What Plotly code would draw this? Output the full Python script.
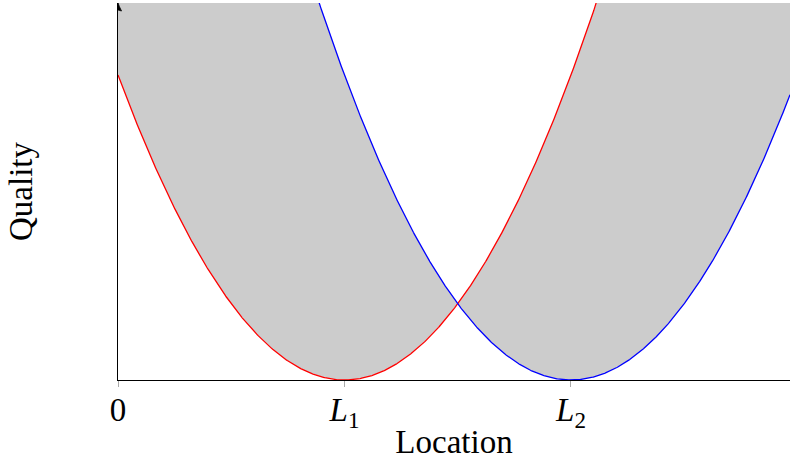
import numpy as np
import plotly.graph_objects as go

# Ideal locations of the two sellers and the shape of the quality curves
tick_vals = [0.0, 1.0, 2.0]
tick_text = ["0", "<i>L</i><sub>1</sub>", "<i>L</i><sub>2</sub>"]
L1 = 1.0
L2 = 2.0
curvature = 1.0
x_max = 2.967
y_max = 1.236

x = np.linspace(0.0, x_max, 1200)
q1 = curvature * (x - L1) ** 2
q2 = curvature * (x - L2) ** 2
lower = np.minimum(q1, q2)
upper = np.minimum(np.maximum(q1, q2), y_max)

font_family = "Liberation Serif, Times New Roman, serif"

fig = go.Figure()
# shaded band between the two curves
fig.add_trace(go.Scatter(x=x, y=lower, mode="lines", line=dict(width=0),
                         hoverinfo="skip", showlegend=False))
fig.add_trace(go.Scatter(x=x, y=upper, mode="lines", line=dict(width=0),
                         fill="tonexty", fillcolor="#cccccc",
                         hoverinfo="skip", showlegend=False))
fig.add_trace(go.Scatter(x=x, y=q1, mode="lines",
                         line=dict(color="#ff0000", width=1.3), showlegend=False))
fig.add_trace(go.Scatter(x=x, y=q2, mode="lines",
                         line=dict(color="#0000ff", width=1.3), showlegend=False))

fig.update_xaxes(range=[0, x_max], showgrid=False, zeroline=False, automargin=False,
                 showline=True, linecolor="black", linewidth=1.4,
                 ticks="outside", ticklen=6, tickwidth=1, tickcolor="#aaaaaa",
                 tickvals=tick_vals, ticktext=tick_text, ticklabelstandoff=-6,
                 tickfont=dict(family=font_family, size=33, color="black"),
                 title=dict(text="Location", standoff=0,
                            font=dict(family=font_family, size=33, color="black")))
fig.update_yaxes(range=[0, y_max], showgrid=False, zeroline=False, automargin=False,
                 showline=True, linecolor="black", linewidth=1.3,
                 showticklabels=False, ticks="",
                 title=dict(text="Quality", standoff=74,
                            font=dict(family=font_family, size=33, color="black")))

# arrow tip on the vertical axis
fig.add_shape(type="path", xref="x", yref="y",
              xsizemode="pixel", ysizemode="pixel", xanchor=0, yanchor=y_max,
              path="M -3.5 -8 Q -1 -3 0 0 Q 1 -3 3.5 -8 Q 0 -6 -3.5 -8 Z",
              fillcolor="black", line=dict(color="black", width=0.8))

fig.update_layout(width=791, height=460, margin=dict(l=118, r=1, t=3, b=80),
                  plot_bgcolor="white", paper_bgcolor="white")

fig.write_html("out.html")
